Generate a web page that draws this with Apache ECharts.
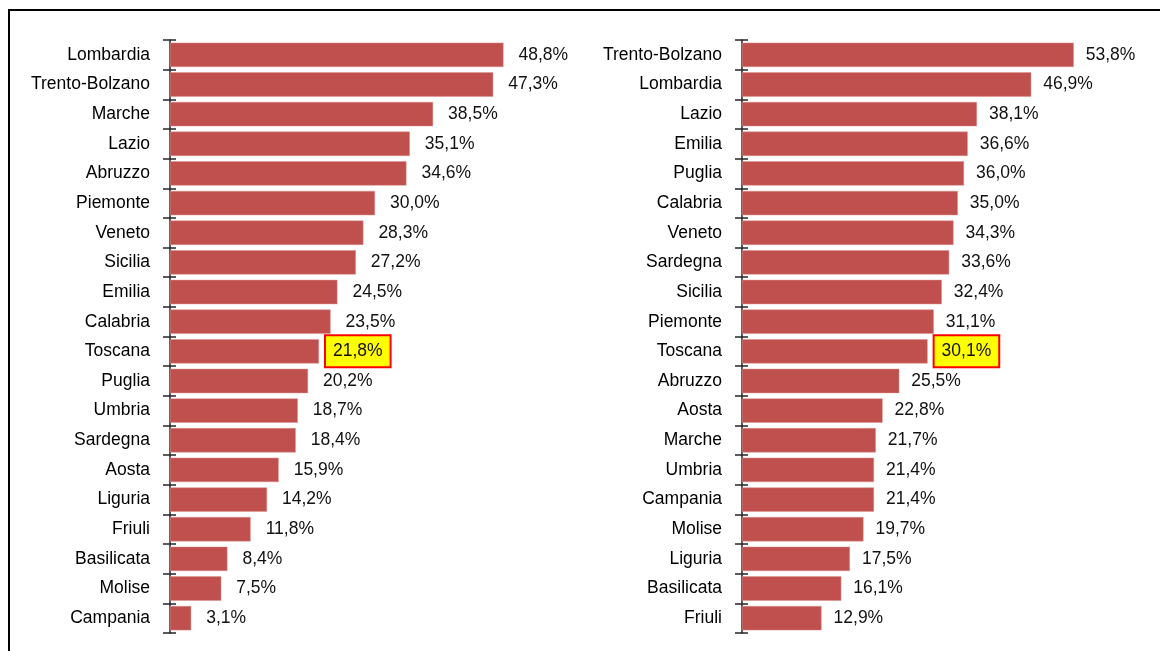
<!DOCTYPE html>
<html>
<head>
<meta charset="utf-8">
<script src="https://cdn.jsdelivr.net/npm/echarts@6/dist/echarts.min.js"></script>
<style>
html,body{margin:0;padding:0;background:#fff;}
#chart{width:1160px;height:651px;}
</style>
</head>
<body>
<div id="chart"></div>
<script>
const leftCategories = ["Lombardia","Trento-Bolzano","Marche","Lazio","Abruzzo","Piemonte","Veneto","Sicilia","Emilia","Calabria","Toscana","Puglia","Umbria","Sardegna","Aosta","Liguria","Friuli","Basilicata","Molise","Campania"];
const leftValues = [48.8,47.3,38.5,35.1,34.6,30.0,28.3,27.2,24.5,23.5,21.8,20.2,18.7,18.4,15.9,14.2,11.8,8.4,7.5,3.1];
const rightCategories = ["Trento-Bolzano","Lombardia","Lazio","Emilia","Puglia","Calabria","Veneto","Sardegna","Sicilia","Piemonte","Toscana","Abruzzo","Aosta","Marche","Umbria","Campania","Molise","Liguria","Basilicata","Friuli"];
const rightValues = [53.8,46.9,38.1,36.6,36.0,35.0,34.3,33.6,32.4,31.1,30.1,25.5,22.8,21.7,21.4,21.4,19.7,17.5,16.1,12.9];
const highlight = "Toscana";

const FONT = '"Liberation Sans",Arial,sans-serif';
const FS = 17.5;
const BAR = '#C0504D';
const AX = '#262626';

function fmt(v){ return v.toFixed(1).replace('.', ',') + '%'; }

function seriesData(cats, vals){
  return vals.map((v,i)=>{
    if (cats[i] === highlight) {
      return {value:v, label:{backgroundColor:'#FFFF00', borderColor:'#FF0000', borderWidth:2, padding:[6,7,6,7], lineHeight:18, distance:7}};
    }
    return {value:v};
  });
}

const chart = echarts.init(document.getElementById('chart'));
const grids = [
  {left:170, top:40, bottom:18, width:410},
  {left:742, top:40, bottom:18, width:370}
];
const yAxes = [];
[leftCategories, rightCategories].forEach((cats, g)=>{
  yAxes.push({
    type:'category', gridIndex:g, data:cats, inverse:true, position:'left',
    axisLine:{show:true, lineStyle:{color:AX, width:1.5}},
    axisTick:{show:true, inside:false, length:7, lineStyle:{color:AX, width:1.5}},
    axisLabel:{show:true, margin:20, color:'#000', fontFamily:FONT, fontSize:FS},
    splitLine:{show:false}
  });
  yAxes.push({
    type:'category', gridIndex:g, data:cats, inverse:true, position:'left',
    axisLine:{show:false},
    axisTick:{show:true, inside:true, length:6, lineStyle:{color:AX, width:1.5}},
    axisLabel:{show:false},
    splitLine:{show:false}
  });
});

const option = {
  animation:false,
  backgroundColor:'#fff',
  grid:grids,
  xAxis:[
    {type:'value', gridIndex:0, min:0, max:60, show:false},
    {type:'value', gridIndex:1, min:0, max:60, show:false}
  ],
  yAxis:yAxes,
  graphic:[{
    type:'rect', shape:{x:9, y:10, width:1300, height:800},
    style:{fill:'none', stroke:'#000', lineWidth:2}, silent:true
  }],
  series:[
    {type:'bar', xAxisIndex:0, yAxisIndex:0, data:seriesData(leftCategories, leftValues), barCategoryGap:'18%',
     itemStyle:{color:BAR, borderColor:'#D9908E', borderWidth:0.5},
     label:{show:true, position:'right', distance:15, color:'#111', fontFamily:FONT, fontSize:FS, formatter:p=>fmt(p.value)}},
    {type:'bar', xAxisIndex:1, yAxisIndex:2, data:seriesData(rightCategories, rightValues), barCategoryGap:'18%',
     itemStyle:{color:BAR, borderColor:'#D9908E', borderWidth:0.5},
     label:{show:true, position:'right', distance:12, color:'#111', fontFamily:FONT, fontSize:FS, formatter:p=>fmt(p.value)}}
  ]
};
chart.setOption(option);
</script>
</body>
</html>
